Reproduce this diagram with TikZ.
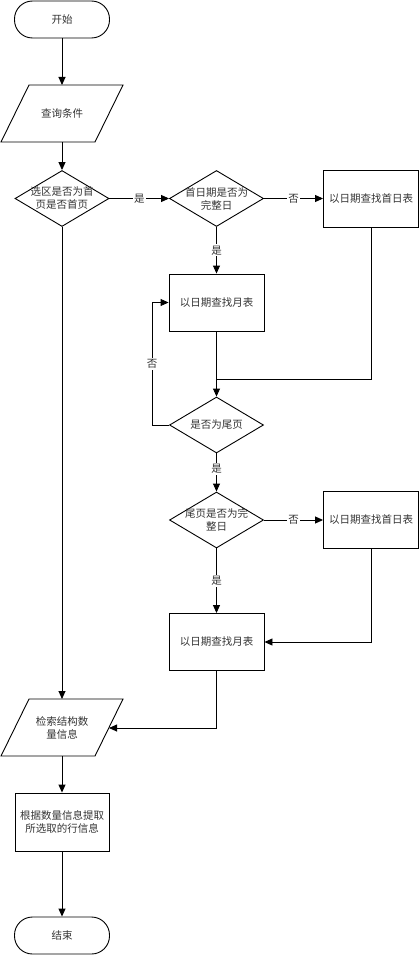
\documentclass[tikz,border=0pt]{standalone}
\usepackage{fontspec}
\setmainfont{Noto Sans CJK SC}
\usetikzlibrary{arrows.meta,shapes.geometric}
\begin{document}
\begin{tikzpicture}[x=1pt,y=-1pt,
  line width=0.9pt,
  >={Triangle[length=8pt,width=7pt]},
  every node/.style={font=\fontsize{10.5pt}{13pt}\selectfont, text=black!80},
  term/.style={draw, rectangle, rounded corners=18pt, minimum width=95pt, minimum height=37pt, inner sep=0pt, line width=0.9pt},
  procbox/.style={draw, rectangle, minimum width=95pt, minimum height=57pt, inner sep=0pt, align=center, line width=0.9pt},
  decide/.style={draw, diamond, minimum width=94pt, minimum height=56pt, inner sep=0pt, line width=0.9pt},
  dtext/.style={align=center, inner sep=0pt},
  elabel/.style={fill=white, inner sep=1.5pt}
]
\useasboundingbox (0,0) rectangle (419,955);

% start
\node[term] (start) at (62,19.5) {开始};

% query parallelogram
\draw (29,85) -- (123,85) -- (95,142) -- (1,142) -- cycle;
\node (q) at (62,113.5) {查询条件};
\coordinate (qtop) at (62,85);
\coordinate (qbot) at (62,142);

% decision 1
\node[decide] (d1) at (62,198.5) {};
\node[dtext] (d1t) at (62,198.5) {选区是否为首\\页是否首页};

% decision 2
\node[decide] (d2) at (216.5,198.5) {};
\node[dtext] (d2t) at (216.5,198.5) {首日期是否为\\完整日};

% box 1
\node[procbox] (b1) at (371,198.5) {以日期查找首日表};

% box 2
\node[procbox] (b2) at (216.5,302.5) {以日期查找月表};

% decision 3
\node[decide] (d3) at (216.5,425) {};
\node[dtext] (d3t) at (216.5,425) {是否为尾页};

% decision 4
\node[decide] (d4) at (216.5,520) {};
\node[dtext] (d4t) at (216.5,520) {尾页是否为完\\整日};

% box 3
\node[procbox] (b3) at (371,520) {以日期查找首日表};

% box 4
\node[procbox] (b4) at (216.5,642) {以日期查找月表};

% parallelogram 2
\draw (29,699) -- (123,699) -- (95,756) -- (1,756) -- cycle;
\node[align=center] (p2) at (62,727.5) {检索结构数\\量信息};
\coordinate (p2top) at (62,699);
\coordinate (p2bot) at (62,756);
\coordinate (p2right) at (109,728);

% box 5
\node[procbox, minimum width=94pt, minimum height=58pt] (b5) at (62,822) {根据数量信息提取\\所选取的行信息};

% end
\node[term] (end) at (62,935.5) {结束};

% connectors
\draw[->] (start.south) -- (qtop);
\draw[->] (qbot) -- (d1.north);
\draw[->] (d1.east) -- node[elabel] {是} (d2.west);
\draw[->] (d2.east) -- node[elabel] {否} (b1.west);
\draw[->] (d2.south) -- node[elabel] {是} (b2.north);
\coordinate (m1) at (216.5,379);
\draw (b1.south) |- (m1);
\draw[->] (b2.south) -- (d3.north);
\coordinate (loopx) at (152,425);
\draw[->] (d3.west) -- (loopx) |- node[elabel, pos=0.25] {否} (b2.west);
\draw[->] (d3.south) -- node[elabel, pos=0.4] {是} (d4.north);
\draw[->] (d4.east) -- node[elabel] {否} (b3.west);
\draw[->] (d4.south) -- node[elabel] {是} (b4.north);
\draw[->] (b3.south) |- (b4.east);
\draw[->] (b4.south) |- (p2right);
\draw[->] (d1.south) -- (p2top);
\draw[->] (p2bot) -- (b5.north);
\draw[->] (b5.south) -- (end.north);
\end{tikzpicture}
\end{document}
